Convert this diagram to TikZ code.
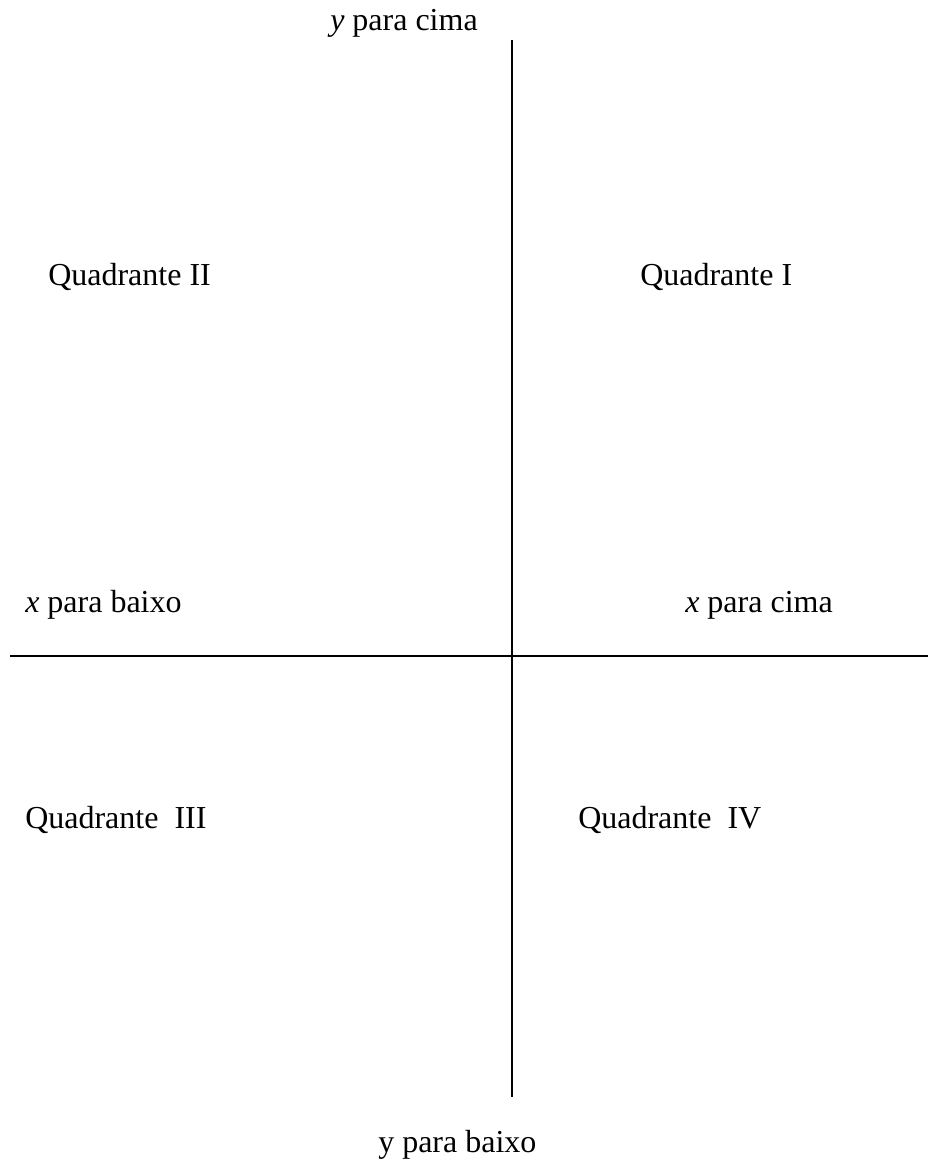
\documentclass[tikz,border=0pt]{standalone}
\usepackage{fontspec}
\setmainfont{Liberation Serif}
\begin{document}
\begin{tikzpicture}[x={(0.75pt,0)},y={(0,-0.75pt)},
  lbl/.style={anchor=base west,inner sep=0pt,font=\fontsize{24}{28}\selectfont},
  axis/.style={line width=1.5pt,black}]
\useasboundingbox[fill=white] (0,0) rectangle (928,1160);
\coordinate (ytop) at (512,40);
\coordinate (ybot) at (512,1097);
\coordinate (xl) at (10,656);
\coordinate (xr) at (928,656);
\draw[axis] (ytop) -- (ybot);
\draw[axis] (xl) -- (xr);
\node[lbl] (yc) at (330,31) {\textit{y} para cima};
\node[lbl] (q2) at (48,285) {Quadrante II};
\node[lbl] (q1) at (640,285) {Quadrante I};
\node[lbl] (xb) at (25,612) {\textit{x} para baixo};
\node[lbl] (xc) at (685,612) {\textit{x} para cima};
\node[lbl] (q3) at (25,828) {Quadrante\ \ III};
\node[lbl] (q4) at (578,828) {Quadrante\ \ IV};
\node[lbl] (yb) at (378,1152) {y para baixo};
\end{tikzpicture}
\end{document}
